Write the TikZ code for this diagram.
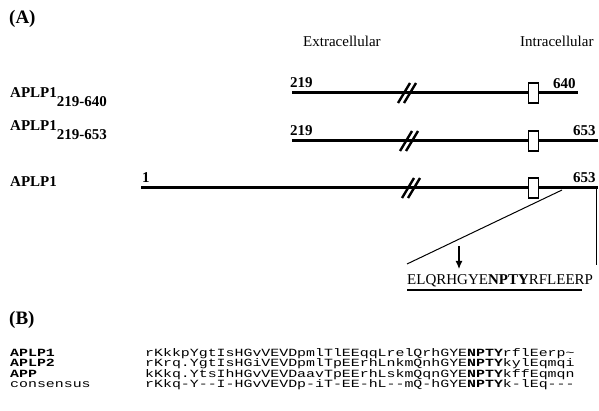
\documentclass[tikz,border=0pt]{standalone}
\usepackage{fontspec}
\setmainfont{Liberation Serif}
\setmonofont[FakeStretch=1.355]{Liberation Mono}
\usetikzlibrary{arrows.meta}
\begin{document}
\begin{tikzpicture}[x=1pt, y=-1pt,
    every node/.style={inner sep=0pt, anchor=base west},
    panel/.style={font=\bfseries\fontsize{19}{22}\selectfont},
    lbl/.style={font=\bfseries\fontsize{15}{18}\selectfont},
    side/.style={font=\fontsize{15}{18}\selectfont},
    chainline/.style={line width=3pt},
    brk/.style={line width=2.4pt},
    tmbox/.style={draw, line width=1.6pt, fill=white, minimum width=10pt, minimum height=20pt, anchor=center},
    aln/.style={font=\ttfamily\fontsize{11}{11}\selectfont}]
  \useasboundingbox (0,0) rectangle (599,411);

  % (A) constructs
  \node[panel] (pA) at (9,24) {(A)};
  \node[side] (extra) at (303,47) {Extracellular};
  \node[side] (intra) at (520,47) {Intracellular};

  \node[lbl] (n1) at (10,98) {APLP1\raisebox{-9pt}{219-640}};
  \node[lbl] (n2) at (10,131) {APLP1\raisebox{-9pt}{219-653}};
  \node[lbl] (n3) at (10,187) {APLP1};

  \coordinate (s1) at (292,93);  \coordinate (e1) at (578,93);
  \coordinate (s2) at (292,141); \coordinate (e2) at (598,141);
  \coordinate (s3) at (141,188); \coordinate (e3) at (598,188);
  \foreach \i/\yy in {1/93, 2/141, 3/188} {
    \node[tmbox] (tm\i) at (533.5,\yy) {};
    \draw[chainline] (s\i) -- (tm\i) -- (e\i);
  }
  \foreach \yy/\bx in {93/407, 141/409, 188/411} {
    \draw[brk] (\bx-9,\yy+10) -- (\bx+3,\yy-10);
    \draw[brk] (\bx-3,\yy+10) -- (\bx+9,\yy-10);
  }

  \node[lbl] (a1) at (290,88) {219};
  \node[lbl] (b1) at (553,89) {640};
  \node[lbl] (a2) at (290,136) {219};
  \node[lbl] (b2) at (573,136) {653};
  \node[lbl] (a3) at (142,183) {1};
  \node[lbl] (b3) at (573,183) {653};

  % cytoplasmic tail
  \node[side] (seq) at (407,285) {ELQRHGYE\textbf{NPTY}RFLEERP};
  \coordinate (wedge) at (562,190);
  \coordinate (cutL) at (407,264);
  \coordinate (cutR) at (596,265);
  \draw[line width=1pt] (wedge) -- (cutL);
  \draw[line width=1pt] (e3) ++(-2,0) -- (cutR);
  \coordinate (site) at (459,269);
  \draw[-{Latex[length=8pt,width=7pt]}, line width=1.2pt] (459,246) -- (site);
  \draw[line width=2pt] ([yshift=-5pt]seq.base west) -- ++(175,0);

  % (B) alignment
  \node[panel] (pB) at (9,324) {(B)};
  \foreach \nm/\sq/\yy [count=\k] in {
      {\textbf{APLP1}}/{rKkkpYgtIsHGvVEVDpmlTlEEqqLrelQrhGYE\textbf{NPTY}rflEerp\textasciitilde}/356,
      {\textbf{APLP2}}/{rKrq.YgtIsHGiVEVDpmlTpEErhLnkmQnhGYE\textbf{NPTY}kylEqmqi}/366.5,
      {\textbf{APP}}/{kKkq.YtsIhHGvVEVDaavTpEErhLskmQqnGYE\textbf{NPTY}kffEqmqn}/377,
      {consensus}/{rKkq-Y--I-HGvVEVDp-iT-EE-hL--mQ-hGYE\textbf{NPTY}k-lEq---}/387.5} {
    \node[aln] (name\k) at (10,\yy) {\nm};
    \node[aln] (row\k) at (145,\yy) {\sq};
  }
\end{tikzpicture}
\end{document}
